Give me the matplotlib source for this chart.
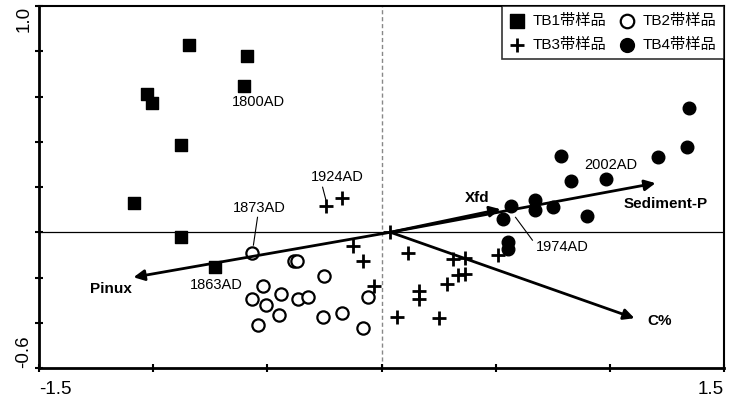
import matplotlib
matplotlib.use("Agg")
import matplotlib.pyplot as plt

# sample scores (axis 1, axis 2)
tb1_x = [-0.841, -0.587, -0.604, -1.029, -1.003, -0.880, -1.086, -0.880, -0.731]
tb1_y = [0.827, 0.778, 0.645, 0.610, 0.570, 0.385, 0.128, -0.022, -0.155]

tb2_x = [-0.569, -0.385, -0.368, -0.250, -0.521, -0.565, -0.508, -0.442,
         -0.364, -0.320, -0.447, -0.539, -0.258, -0.171, -0.061, -0.079]
tb2_y = [-0.093, -0.128, -0.128, -0.194, -0.239, -0.296, -0.323, -0.274,
         -0.296, -0.287, -0.367, -0.411, -0.376, -0.358, -0.287, -0.424]

tb3_x = [-0.241, -0.171, -0.123, -0.079, -0.031, 0.039, 0.118, 0.315, 0.364,
         0.337, 0.364, 0.285, 0.166, 0.166, 0.070, 0.254, 0.512]
tb3_y = [0.115, 0.150, -0.062, -0.128, -0.239, 0.0, -0.093, -0.119, -0.115,
         -0.190, -0.186, -0.230, -0.261, -0.296, -0.376, -0.380, -0.102]

tb4_x = [0.784, 0.832, 0.985, 1.213, 1.340, 1.345, 0.569, 0.674, 0.674,
         0.753, 0.902, 0.534, 0.556, 0.556]
tb4_y = [0.336, 0.225, 0.234, 0.331, 0.376, 0.548, 0.115, 0.141, 0.097,
         0.110, 0.071, 0.057, -0.044, -0.075]

# environmental vectors
vec_names = ["Pinux", "Xfd", "Sediment-P", "C%"]
vec_x = [-1.086, 0.521, 1.200, 1.108]
vec_y = [-0.199, 0.102, 0.217, -0.380]
vec_origin = (0.039, 0.0)

legend_labels = ["TB1带样品", "TB2带样品", "TB3带样品", "TB4带样品"]

plt.rcParams["font.family"] = ["Liberation Sans", "Noto Sans CJK SC", "DejaVu Sans"]

fig = plt.figure(figsize=(7.36, 3.96), dpi=100)
ax = fig.add_axes([39 / 736, 28 / 396, 685 / 736, 362 / 396])
ax.set_xlim(-1.5, 1.5)
ax.set_ylim(-0.6, 1.0)

ax.axvline(0, color="#888888", lw=1, ls=(0, (3, 2)), zorder=1)
ax.axhline(0, color="black", lw=0.9, zorder=1)

h1 = ax.scatter(tb1_x, tb1_y, marker="s", s=78, c="black", zorder=3)
h2 = ax.scatter(tb2_x, tb2_y, marker="o", s=78, facecolors="white",
                edgecolors="black", linewidths=1.6, zorder=3)
h3 = ax.scatter(tb3_x, tb3_y, marker="+", s=95, c="black", linewidths=2, zorder=3)
h4 = ax.scatter(tb4_x, tb4_y, marker="o", s=82, c="black", zorder=3)

for name, vx, vy in zip(vec_names, vec_x, vec_y):
    ax.annotate("", xy=(vx, vy), xytext=vec_origin,
                arrowprops=dict(arrowstyle="-|>", lw=2, color="black",
                                mutation_scale=16, shrinkA=0, shrinkB=0),
                zorder=4)

bold = dict(fontsize=11, fontweight="bold", ha="center", va="center")
ax.text(-1.183, -0.252, "Pinux", **bold)
ax.text(0.420, 0.150, "Xfd", **bold)
ax.text(1.244, 0.124, "Sediment-P", **bold)
ax.text(1.165, -0.393, "C%", fontsize=11, fontweight="bold", ha="left", va="center")

note = dict(fontsize=10.5, ha="center", va="center")
ax.text(-0.539, 0.575, "1800AD", **note)
ax.text(-0.193, 0.243, "1924AD", **note)
ax.text(-0.534, 0.106, "1873AD", **note)
ax.text(-0.723, -0.234, "1863AD", **note)
ax.text(1.003, 0.296, "2002AD", **note)
ax.text(0.793, -0.066, "1974AD", **note)

# leader lines from labels to samples
ax.plot([-0.258, -0.241], [0.199, 0.133], color="black", lw=0.8)
ax.plot([-0.543, -0.561], [0.066, -0.057], color="black", lw=0.8)
ax.plot([0.587, 0.661], [0.066, -0.035], color="black", lw=0.8)

ax.set_xticks([-1.5, -1.0, -0.5, 0, 0.5, 1.0, 1.5])
ax.set_xticklabels(["-1.5", "", "", "", "", "", "1.5"])
ax.set_yticks([-0.6, -0.4, -0.2, 0, 0.2, 0.4, 0.6, 0.8, 1.0])
ax.set_yticklabels(["-0.6", "", "", "", "", "", "", "", "1.0"], rotation=90)
ax.tick_params(direction="inout", length=6, width=1.5, labelsize=13.5)
ax.tick_params(axis="x", pad=6)
ax.tick_params(axis="y", pad=8)

xl = ax.get_xticklabels()
xl[0].set_ha("left")
xl[-1].set_ha("right")
yl = ax.get_yticklabels()
yl[0].set_va("bottom")
yl[-1].set_va("top")
for lab in yl:
    lab.set_ha("center")

for side in ["left", "bottom"]:
    ax.spines[side].set_linewidth(2)
for side in ["top", "right"]:
    ax.spines[side].set_linewidth(1.5)

leg = ax.legend([h1, h3, h2, h4],
                [legend_labels[0], legend_labels[2], legend_labels[1], legend_labels[3]],
                ncol=2, loc="upper right", borderaxespad=0, fontsize=11,
                frameon=True, fancybox=False, edgecolor="black",
                handlelength=1.0, handletextpad=0.5, columnspacing=0.9,
                borderpad=0.5, labelspacing=0.65, scatterpoints=1, markerscale=1.1)
leg.get_frame().set_linewidth(1.2)

fig.savefig("out.png", dpi=100)
